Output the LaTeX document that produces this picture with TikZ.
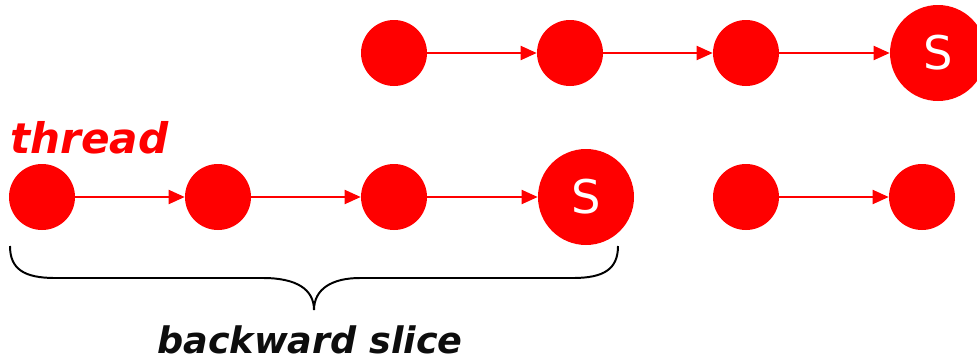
\documentclass[tikz,border=0pt]{standalone}
\usepackage{fontspec}
\setmainfont{DejaVu Sans}
\usetikzlibrary{arrows.meta}

\tikzset{
    instr/.style={circle, fill=red, draw=none, minimum size=1.65cm, inner sep=0pt},
    crit/.style={instr, minimum size=2.4cm, text=white, font=\fontsize{33}{36}\selectfont},
    flow/.style={red, line width=1.5pt, -{Triangle[length=11.5pt,width=10pt]}}
}

\begin{document}
\begin{tikzpicture}
        \useasboundingbox (0, 0) rectangle (24.425, 9.025);

        % Draw the upper thread
        \node[instr] (u1) at (9.85, 7.7) {};
        \node[instr] (u2) at (14.25, 7.7) {};
        \node[instr] (u3) at (18.65, 7.7) {};
        \node[crit] (u4) at (23.45, 7.7) {S};
        \draw[flow] (u1) -- (u2);
        \draw[flow] (u2) -- (u3);
        \draw[flow] (u3) -- (u4);

        % Draw the lower thread
        \node[instr] (l1) at (1.05, 4.1) {};
        \node[instr] (l2) at (5.45, 4.1) {};
        \node[instr] (l3) at (9.85, 4.1) {};
        \node[crit] (l4) at (14.65, 4.1) {S};
        \draw[flow] (l1) -- (l2);
        \draw[flow] (l2) -- (l3);
        \draw[flow] (l3) -- (l4);

        \node[instr] (r1) at (18.65, 4.1) {};
        \node[instr] (r2) at (23.05, 4.1) {};
        \draw[flow] (r1) -- (r2);

        \node[anchor=base west, inner sep=0pt, red, font=\fontsize{30}{34}\selectfont\bfseries\itshape] (thr) at (0.25, 5.2) {thread};

        % Draw the brace under the lower thread
        \draw[line width=1.4pt] (0.25, 2.875) .. controls (0.25, 2.3) and (0.6, 2.075) .. (1.375, 2.075)
            -- (6.575, 2.075) .. controls (7.4, 2.075) and (7.85, 1.8) .. (7.85, 1.275)
            .. controls (7.85, 1.8) and (8.3, 2.075) .. (9.0, 2.075)
            -- (14.325, 2.075) .. controls (15.1, 2.075) and (15.45, 2.3) .. (15.45, 2.875);
        \node[anchor=base, inner sep=0pt, font=\fontsize{26}{30}\selectfont\bfseries\itshape, text=black!95] (bws) at (7.75, 0.2) {backward slice};
    \end{tikzpicture}
\end{document}
